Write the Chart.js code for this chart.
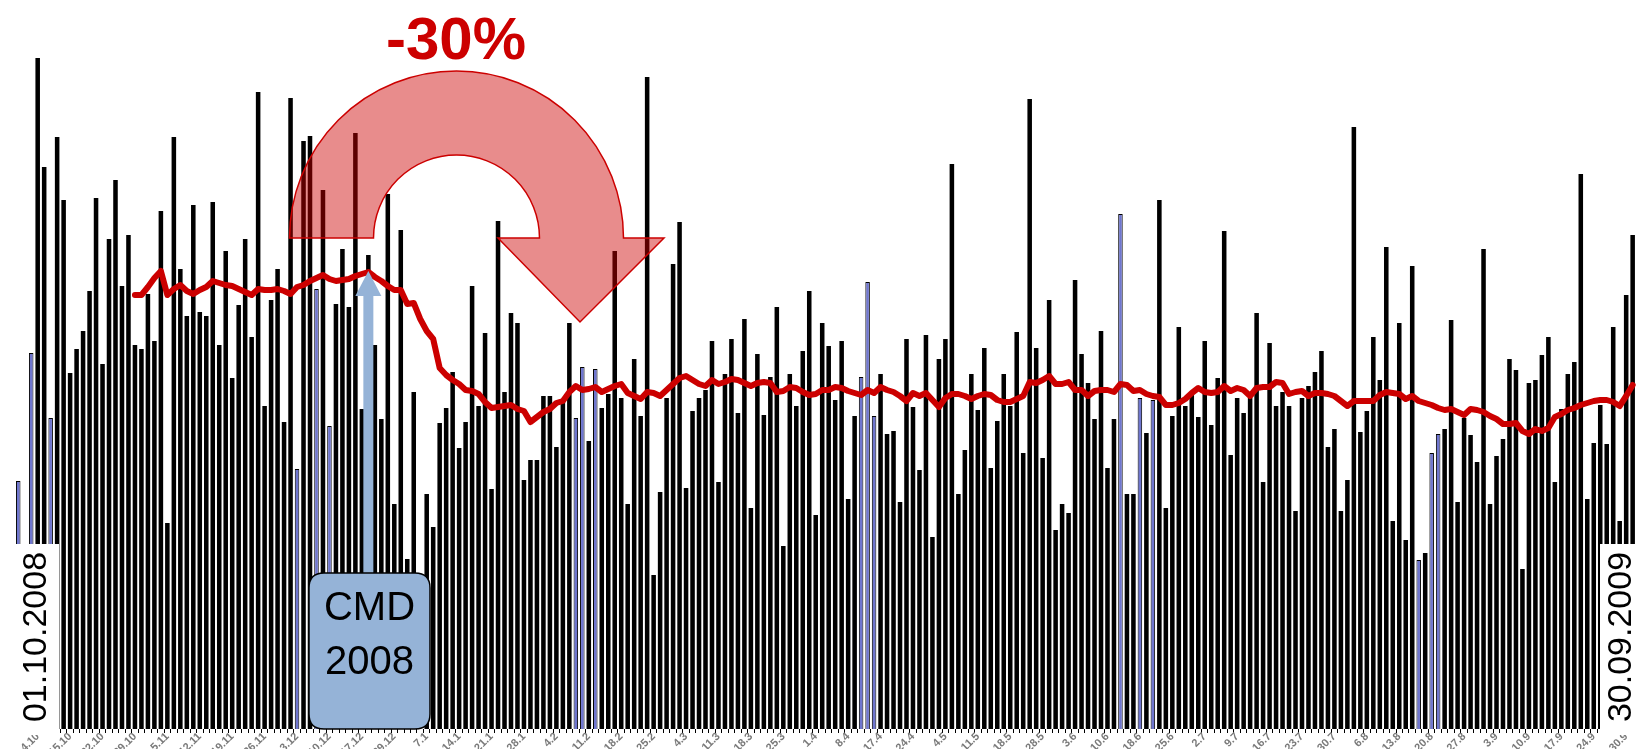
<!DOCTYPE html>
<html>
<head>
<meta charset="utf-8">
<script src="https://cdn.jsdelivr.net/npm/chart.js@4.4.1/dist/chart.umd.min.js"></script>
<style>
  html, body { margin: 0; padding: 0; background: #fff; }
  #wrap { width: 1639px; height: 749px; }
</style>
</head>
<body>
<div id="wrap"><canvas id="chart" width="1639" height="749"></canvas></div>
<script>
// weekly tick labels, one every 5 bars
const dateLabels = ['4.10', '15.10', '22.10', '29.10', '5.11', '12.11', '19.11', '26.11', '3.12', '10.12',
  '17.12', '29.12', '7.1', '14.1', '21.1', '28.1', '4.2', '11.2', '18.2', '25.2',
  '4.3', '11.3', '18.3', '25.3', '1.4', '8.4', '17.4', '24.4', '4.5', '11.5',
  '18.5', '28.5', '3.6', '10.6', '18.6', '25.6', '2.7', '9.7', '16.7', '23.7',
  '30.7', '6.8', '13.8', '20.8', '27.8', '3.9', '10.9', '17.9', '24.9', '30.9'];

// daily values
const barsOctNov = [218, null, 346, 641, 532, 281, 562, 499, 326, 350, 368, 408, 501, 335, 460, 519, 413, 464, 354, 350,
  405, 358, 488, 176, 562, 430, 383, 494, 387, 383, 497, 354, 448, 321, 394, 460, 362, 607, 293, 399];
const barsDecJan = [430, 277, 601, 230, 558, 563, 410, 509, 273, 395, 450, 392, 566, 290, 444, 354, 280, 505, 195, 469,
  140, 307, null, 205, 172, 276, 291, 327, 251, 277, 413, 293, 366, 210, 478, 307, 386, 376, 219, 239, 239, 303];
const barsFebMar = [303, 252, 298, 376, 281, 332, 258, 330, 291, 305, 448, 301, 195, 340, 283, 622, 124, 207, 301, 435,
  477, 211, 288, 301, 309, 358, 217, 325, 360, 286, 380, 191, 345, 284, 322, 392, 153, 325, 293, 348, 408, 184, 376];
const barsAprMay = [353, 299, 358, 200, 283, 322, 417, 283, 325, 265, 268, 197, 360, 292, 229, 364, 162, 340, 360, 535,
  205, 249, 325, 289, 351, 231, 278, 325, 293, 367, 246, 600, 351, 241, 399, 169, 195, 186, 419, 345, 316, 280];
const barsJunJul = [368, 231, 280, 485, 205, 205, 301, 266, 299, 499, 191, 283, 372, 293, 305, 282, 358, 274, 321, 468,
  244, 301, 286, 301, 386, 217, 356, 293, 307, 293, 188, 301, 313, 327, 348, 252, 270, 188, 219, 572, 267, 288];
const barsAugSep = [362, 319, 452, 178, 376, 159, 433, 139, 146, 246, 265, 270, 379, 197, 281, 264, 237, 450, 195, 243,
  260, 340, 329, 130, 316, 319, 344, 362, 217, 290, 325, 337, 525, 200, 256, 294, 255, 372, 178, 404, 464];

// red trend line, same bars
const trendOctNov = [null, null, null, null, null, null, null, null, null, null, null, null, null, null, null, null, null, null,
  404, 404, 412, 421, 428, 404, 410, 414, 408, 405, 409, 412, 418, 416, 414, 413, 410, 407, 404, 410, 409, 409];
const trendDecJan = [410, 408, 405, 412, 414, 418, 421, 424, 420, 418, 419, 420, 423, 425, 427, 422, 418, 413, 409, 409,
  395, 396, 380, 368, 360, 331, 324, 319, 315, 309, 308, 305, 297, 291, 292, 293, 294, 290, 288, 277, 282, 287];
const trendFebMar = [290, 296, 298, 307, 313, 309, 310, 312, 307, 310, 313, 315, 306, 303, 300, 307, 306, 303, 309, 315,
  321, 323, 319, 315, 313, 319, 315, 317, 320, 319, 316, 313, 316, 317, 316, 307, 308, 312, 311, 307, 304, 305, 309];
const trendAprMay = [309, 312, 311, 308, 306, 304, 309, 306, 312, 309, 307, 303, 298, 306, 303, 306, 299, 292, 301, 305,
  305, 303, 300, 303, 305, 304, 299, 297, 297, 300, 303, 317, 316, 319, 323, 315, 315, 317, 309, 309, 303, 308];
const trendJunJul = [309, 309, 307, 315, 314, 308, 309, 305, 303, 302, 294, 294, 296, 300, 306, 311, 307, 306, 307, 313,
  308, 311, 309, 303, 311, 312, 312, 317, 316, 305, 307, 308, 303, 306, 306, 305, 303, 298, 293, 298, 298, 298];
const trendAugSep = [298, 304, 307, 306, 305, 300, 303, 298, 296, 294, 291, 289, 290, 287, 284, 290, 289, 287, 283, 280,
  275, 275, 276, 268, 265, 270, 268, 271, 282, 285, 289, 291, 294, 296, 298, 299, 299, 297, 293, 303, 314];

// bars drawn in blue
const highlightDays = [0, 2, 5, 43, 46, 48, 86, 87, 89, 130, 131, 132, 170, 173, 175, 216, 218, 219];

const peakIndex = 54; // where the CMD arrow points

const barValues = [].concat(barsOctNov, barsDecJan, barsFebMar, barsAprMay, barsJunJul, barsAugSep);
const trendValues = [].concat(trendOctNov, trendDecJan, trendFebMar, trendAprMay, trendJunJul, trendAugSep);

const labels = barValues.map((v, i) => ((i - 3) % 5 === 0 ? dateLabels[(i - 3) / 5] : ''));
const barColors = barValues.map((v, i) => (highlightDays.includes(i) ? '#6f76cf' : '#000'));
const barBorders = barValues.map((v, i) => (highlightDays.includes(i) ? 1 : 0));

const FONT = '"Liberation Sans", Arial, sans-serif';
const RED = '#cc0000';
const CMD_BLUE = '#95b3d7';

function roundRect(ctx, x, y, w, h, r) {
  ctx.beginPath();
  ctx.moveTo(x + r, y);
  ctx.lineTo(x + w - r, y);
  ctx.quadraticCurveTo(x + w, y, x + w, y + r);
  ctx.lineTo(x + w, y + h - r);
  ctx.quadraticCurveTo(x + w, y + h, x + w - r, y + h);
  ctx.lineTo(x + r, y + h);
  ctx.quadraticCurveTo(x, y + h, x, y + h - r);
  ctx.lineTo(x, y + r);
  ctx.quadraticCurveTo(x, y, x + r, y);
  ctx.closePath();
}

function drawTurnArrow(ctx) {
  const cx = 456.5, cy = 238, R = 167, r = 83;

  ctx.beginPath();
  ctx.moveTo(cx - R, cy);
  ctx.arc(cx, cy, R, Math.PI, 2 * Math.PI);
  ctx.lineTo(664, cy);
  ctx.lineTo(580, 322);
  ctx.lineTo(498, cy);
  ctx.lineTo(cx + r, cy);
  ctx.arc(cx, cy, r, 0, Math.PI, true);
  ctx.closePath();
  ctx.fillStyle = 'rgba(204, 0, 0, 0.45)';
  ctx.fill();
  ctx.strokeStyle = RED;
  ctx.lineWidth = 1.5;
  ctx.stroke();

  ctx.fillStyle = RED;
  ctx.font = 'bold 60px ' + FONT;
  ctx.textAlign = 'center';
  ctx.textBaseline = 'middle';
  ctx.fillText('-30%', 456, 42);
}

function drawCallout(ctx, chart) {
  const pt = chart.getDatasetMeta(1).data[peakIndex];
  const tipX = pt.x, tipY = pt.y - 1;
  const boxTop = 573;

  ctx.fillStyle = CMD_BLUE;
  ctx.fillRect(tipX - 5, tipY + 22, 10, boxTop - tipY - 22);
  ctx.beginPath();
  ctx.moveTo(tipX, tipY);
  ctx.lineTo(tipX - 13, tipY + 25);
  ctx.lineTo(tipX + 13, tipY + 25);
  ctx.closePath();
  ctx.fill();

  roundRect(ctx, 309, boxTop, 121, 156, 15);
  ctx.fillStyle = CMD_BLUE;
  ctx.fill();
  ctx.strokeStyle = '#000';
  ctx.lineWidth = 1.5;
  ctx.stroke();

  ctx.fillStyle = '#000';
  ctx.font = '40px ' + FONT;
  ctx.textAlign = 'center';
  ctx.textBaseline = 'middle';
  ctx.fillText('CMD', 369.5, 609);
  ctx.fillText('2008', 369.5, 663);
}

function drawDateBox(ctx, x, w, text, textX) {
  ctx.fillStyle = '#fff';
  ctx.fillRect(x, 544, w, 191);
  ctx.save();
  ctx.translate(textX, 637);
  ctx.rotate(-Math.PI / 2);
  ctx.fillStyle = '#000';
  ctx.font = '34px ' + FONT;
  ctx.textAlign = 'center';
  ctx.textBaseline = 'middle';
  ctx.fillText(text, 0, 0);
  ctx.restore();
}

const overlay = {
  id: 'overlay',
  afterDraw(chart) {
    const ctx = chart.ctx;
    ctx.save();
    drawTurnArrow(ctx);
    drawCallout(ctx, chart);
    drawDateBox(ctx, 10, 49, '01.10.2008', 37);
    drawDateBox(ctx, 1600, 39, '30.09.2009', 1622);
    ctx.restore();
  }
};

new Chart(document.getElementById('chart'), {
  data: {
    labels: labels,
    datasets: [
      {
        type: 'bar',
        data: barValues,
        backgroundColor: barColors,
        borderColor: '#000',
        borderWidth: barBorders,
        base: -30,
        barPercentage: 0.7,
        categoryPercentage: 1,
        order: 2
      },
      {
        type: 'line',
        data: trendValues,
        borderColor: RED,
        borderWidth: 6,
        pointRadius: 0,
        tension: 0,
        borderJoinStyle: 'round',
        borderCapStyle: 'round',
        order: 1
      }
    ]
  },
  options: {
    responsive: false,
    animation: false,
    devicePixelRatio: 1,
    layout: { padding: { top: 29, left: 15, right: 3, bottom: 0 } },
    plugins: {
      legend: { display: false },
      tooltip: { enabled: false }
    },
    scales: {
      x: {
        offset: true,
        grid: { display: true, drawOnChartArea: false, drawTicks: true, tickLength: 4, color: '#000', offset: true },
        border: { display: false },
        ticks: {
          autoSkip: false,
          maxRotation: 45,
          minRotation: 45,
          padding: -3,
          color: '#7a7a7a',
          font: { size: 11, weight: 'bold', family: FONT }
        },
        afterFit(scale) { scale.height = 20; }
      },
      y: {
        display: false,
        min: -30,
        max: 670
      }
    }
  },
  plugins: [overlay]
});
</script>
</body>
</html>
